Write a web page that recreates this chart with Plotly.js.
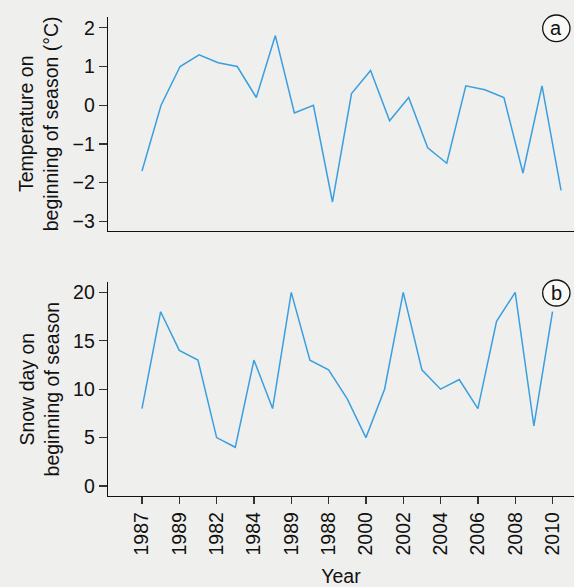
<!DOCTYPE html>
<html>
<head>
<meta charset="utf-8">
<script src="https://cdn.plot.ly/plotly-3.0.1.min.js"></script>
<style>html,body{margin:0;padding:0;background:#efefed;}</style>
</head>
<body>
<div id="chart" style="width:574px;height:587px;"></div>
<script>
const years = [1987,1988,1989,1990,1991,1992,1993,1994,1995,1996,1997,1998,1999,2000,2001,2002,2003,2004,2005,2006,2007,2008,2009];
const temperature = [-1.7,0,1.0,1.3,1.1,1.0,0.2,1.8,-0.2,0,-2.5,0.3,0.9,-0.4,0.2,-1.1,-1.5,0.5,0.4,0.2,-1.75,0.5,-2.2];
const snowDays = [8,18,14,13,5,4,13,8,20,13,12,9,5,10,20,12,10,11,8,17,20,6.2,18];
const tickYears = [1987,1989,1991,1993,1995,1997,1999,2001,2003,2005,2007,2009];
const tickLabels = ["1987","1989","1982","1984","1989","1988","2000","2002","2004","2006","2008","2010"];
const panelLabels = ["a","b"];

const lineColor = '#3a9fe0';
const font = {family: '"Liberation Sans", Arial, Helvetica, sans-serif', color: '#111', size: 19.5};
const tickFont = Object.assign({}, font, {size: 19.5});

const traces = [
  {x: years, y: temperature, xaxis: 'x', yaxis: 'y', type: 'scatter', mode: 'lines',
   line: {color: lineColor, width: 1.5}, hoverinfo: 'x+y'},
  {x: years, y: snowDays, xaxis: 'x2', yaxis: 'y2', type: 'scatter', mode: 'lines',
   line: {color: lineColor, width: 1.5}, hoverinfo: 'x+y'}
];

const axisCommon = {showgrid: false, zeroline: false, showline: true, linecolor: '#111', linewidth: 1.3,
  ticks: 'outside', ticklen: 8, tickwidth: 1.3, tickcolor: '#333', tickfont: tickFont};

const layout = {
  width: 574, height: 587,
  margin: {l: 108, r: 0, t: 17, b: 91},
  paper_bgcolor: '#efefed', plot_bgcolor: 'rgba(0,0,0,0)',
  showlegend: false,
  font: font,
  xaxis: Object.assign({}, axisCommon, {domain: [0, 1], anchor: 'y', range: [1985.215, 2009.68],
    showticklabels: false, ticks: ''}),
  yaxis: Object.assign({}, axisCommon, {domain: [0.554, 1], anchor: 'x', range: [-3.24, 2.28],
    tickvals: [-3,-2,-1,0,1,2],
    title: {text: 'Temperature on<br>beginning of season (°C)', font: font, standoff: 8}}),
  xaxis2: Object.assign({}, axisCommon, {domain: [0, 1], anchor: 'y2', range: [1985.18, 2010.15],
    tickvals: tickYears, ticktext: tickLabels, tickangle: -90, ticklen: 7,
    title: {text: 'Year', font: font, standoff: 16}}),
  yaxis2: Object.assign({}, axisCommon, {domain: [0, 0.446], anchor: 'x2', range: [-1.03, 21.03],
    tickvals: [0,5,10,15,20],
    title: {text: 'Snow day on<br>beginning of season', font: font, standoff: 8}}),
  shapes: [
    {type: 'circle', xref: 'paper', yref: 'paper', x0: 0.9328, x1: 0.9914, y0: 0.9484, y1: 1.0042,
     line: {color: '#111', width: 1.3}, fillcolor: 'rgba(255,255,255,0.6)'},
    {type: 'circle', xref: 'paper', yref: 'paper', x0: 0.9328, x1: 0.9914, y0: 0.3967, y1: 0.4509,
     line: {color: '#111', width: 1.3}, fillcolor: 'rgba(255,255,255,0.6)'}
  ],
  annotations: [
    {text: panelLabels[0], xref: 'paper', yref: 'paper', x: 0.9621, y: 0.9763, showarrow: false,
     xanchor: 'center', yanchor: 'middle', font: Object.assign({}, font, {size: 20})},
    {text: panelLabels[1], xref: 'paper', yref: 'paper', x: 0.9621, y: 0.4238, showarrow: false,
     xanchor: 'center', yanchor: 'middle', font: Object.assign({}, font, {size: 20})}
  ]
};

Plotly.newPlot('chart', traces, layout, {displayModeBar: false, staticPlot: true});
</script>
</body>
</html>
